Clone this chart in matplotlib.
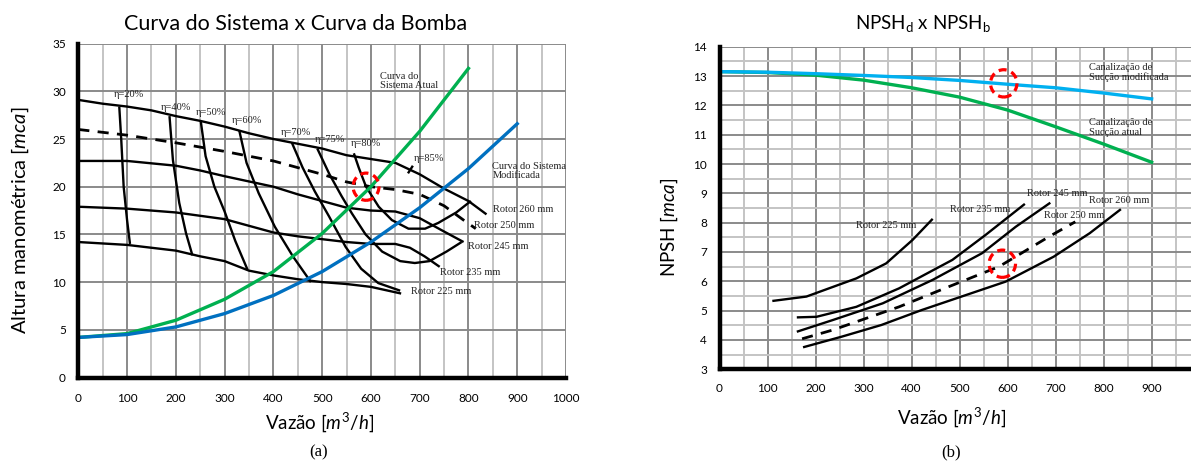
import matplotlib
matplotlib.use("Agg")
import matplotlib.pyplot as plt
from matplotlib.patches import Ellipse
from matplotlib.ticker import MultipleLocator

plt.rcParams['font.family'] = ['Lato', 'DejaVu Sans']
plt.rcParams['mathtext.fontset'] = 'custom'
plt.rcParams['mathtext.rm'] = 'Lato'
plt.rcParams['mathtext.it'] = 'Lato:italic'

SERIF = ['Liberation Serif', 'DejaVu Serif']

# ---------------- (a) pump curves ----------------
r260_q = [0, 50, 100, 150, 200, 250, 300, 350, 400, 450, 500, 550, 600, 650, 700, 750, 800, 837]
r260_h = [29.1, 28.7, 28.4, 28.0, 27.4, 26.9, 26.3, 25.6, 25.0, 24.5, 24.0, 23.3, 22.9, 22.5, 21.3, 19.8, 18.5, 17.1]
r250_q = [0, 100, 200, 300, 400, 500, 550, 600, 650, 700, 750, 790, 815]
r250_h = [26.0, 25.4, 24.6, 23.7, 22.7, 21.3, 20.5, 20.0, 19.7, 19.2, 18.0, 16.5, 15.6]
r245_q = [0, 100, 200, 250, 300, 400, 450, 500, 550, 600, 650, 700, 750, 790]
r245_h = [22.7, 22.7, 22.2, 21.7, 21.1, 20.0, 19.2, 18.5, 17.8, 17.5, 17.4, 16.7, 15.3, 14.2]
r235_q = [0, 100, 200, 300, 350, 400, 450, 500, 550, 600, 650, 680, 710, 741]
r235_h = [17.9, 17.7, 17.3, 16.6, 15.9, 15.2, 14.8, 14.5, 14.2, 14.0, 14.0, 13.6, 12.7, 11.6]
r225_q = [0, 100, 200, 250, 300, 350, 400, 450, 500, 550, 600, 662]
r225_h = [14.2, 13.9, 13.3, 12.7, 12.2, 11.2, 10.7, 10.3, 10.0, 9.8, 9.5, 8.8]

eta20_q = [84, 88, 93, 100, 106]
eta20_h = [28.4, 25.0, 20.0, 16.5, 14.0]
eta40_q = [187, 194, 207, 221, 234]
eta40_h = [27.4, 22.8, 18.3, 15.1, 12.8]
eta50_q = [251, 261, 279, 300, 322, 347]
eta50_h = [26.9, 23.2, 20.0, 17.4, 14.3, 11.3]
eta60_q = [330, 345, 370, 403, 440, 477]
eta60_h = [25.9, 22.5, 19.3, 15.8, 12.7, 10.0]
eta70_q = [438, 460, 485, 514, 548, 580, 615, 660]
eta70_h = [24.6, 22.0, 19.5, 16.9, 13.7, 11.4, 9.9, 9.1]
eta75_q = [490, 515, 540, 561, 589, 623, 660, 690, 720, 755, 786]
eta75_h = [24.0, 21.3, 19.0, 17.2, 15.0, 13.2, 12.2, 12.0, 12.2, 13.2, 14.2]
eta80_q = [565, 575, 590, 616, 643, 677, 711, 738, 775, 805]
eta80_h = [23.5, 22.0, 20.0, 17.9, 16.5, 15.6, 15.6, 16.2, 17.3, 18.5]
eta85_q = [676, 686]
eta85_h = [21.4, 22.2]

sys_q = [0, 100, 200, 300, 400, 500, 600, 700, 800, 900]
sys_atual_h = [4.2, 4.6, 6.0, 8.2, 11.1, 15.1, 20.0, 25.8, 32.4]
sys_mod_h = [4.2, 4.5, 5.3, 6.7, 8.6, 11.1, 14.2, 17.8, 21.9, 26.6]

eta_labels = ['η=20%', 'η=40%', 'η=50%', 'η=60%', 'η=70%', 'η=75%', 'η=80%', 'η=85%']
eta_label_q = [73, 170, 240, 315, 415, 485, 558, 688]
eta_label_h = [29.7, 28.3, 27.8, 26.9, 25.7, 24.9, 24.5, 23.0]

rotor_labels = ['Rotor 260 mm', 'Rotor 250 mm', 'Rotor 245 mm', 'Rotor 235 mm', 'Rotor 225 mm']
rotor_label_q = [850, 812, 799, 742, 682]
rotor_label_h = [17.6, 15.9, 13.7, 11.0, 9.0]

# ---------------- (b) NPSH ----------------
npshd_q = [0, 100, 200, 300, 400, 500, 600, 700, 800, 900]
npshd_mod = [13.15, 13.13, 13.08, 13.02, 12.95, 12.85, 12.72, 12.6, 12.42, 12.22]
npshd_atual = [13.15, 13.12, 13.03, 12.86, 12.6, 12.28, 11.84, 11.27, 10.68, 10.06]

n225_q = [110, 181, 285, 347, 402, 444]
n225_h = [5.33, 5.48, 6.1, 6.61, 7.41, 8.13]
n235_q = [161, 202, 285, 374, 485, 554, 636]
n235_h = [4.77, 4.79, 5.13, 5.76, 6.73, 7.58, 8.64]
n245_q = [161, 236, 340, 444, 547, 617, 689]
n245_h = [4.28, 4.68, 5.25, 6.05, 6.96, 7.86, 8.68]
n250_q = [172, 236, 374, 478, 582, 686, 741]
n250_h = [4.04, 4.34, 5.13, 5.82, 6.5, 7.52, 8.03]
n260_q = [174, 254, 337, 421, 504, 596, 696, 771, 836]
n260_h = [3.75, 4.11, 4.51, 5.02, 5.48, 5.99, 6.84, 7.64, 8.46]

npsh_labels = ['Rotor 225 mm', 'Rotor 235 mm', 'Rotor 245 mm', 'Rotor 250 mm', 'Rotor 260 mm']
npsh_label_q = [285, 480, 641, 675, 770]
npsh_label_h = [7.9, 8.46, 9.0, 8.24, 8.75]

W, H = 1191, 461
fig = plt.figure(figsize=(W / 100, H / 100), dpi=100)


def px(x, y):
    return x / W, 1 - y / H


def style_axes(ax):
    for s in ['top', 'right']:
        ax.spines[s].set_visible(False)
    for s in ['left', 'bottom']:
        ax.spines[s].set_linewidth(3.2)
        ax.spines[s].set_color('black')
        ax.spines[s].set_zorder(5)
    ax.grid(which='major', color='#8a8a8a', linewidth=1.4, zorder=0)
    ax.grid(which='minor', axis='x', color='#c4c4c4', linewidth=1.4, zorder=0)
    ax.tick_params(which='both', length=0, labelsize=8.5)
    ax.set_axisbelow(True)


BLK = dict(color='black', lw=1.7, solid_capstyle='butt', zorder=3)

# ---------- left axes ----------
ax1 = fig.add_axes([78.3 / W, 1 - 377.5 / H, (566 - 78.3) / W, (377.5 - 43.6) / H])
ax1.set_xlim(0, 1000)
ax1.set_ylim(0, 35)
ax1.xaxis.set_major_locator(MultipleLocator(100))
ax1.xaxis.set_minor_locator(MultipleLocator(50))
ax1.yaxis.set_major_locator(MultipleLocator(5))
style_axes(ax1)
ax1.tick_params(axis='x', pad=11)
ax1.tick_params(axis='y', pad=9)

for q, h in [(r260_q, r260_h), (r245_q, r245_h), (r235_q, r235_h), (r225_q, r225_h)]:
    ax1.plot(q, h, **BLK)
ax1.plot(r250_q, r250_h, color='black', lw=2.0, linestyle=(0, (4, 3)), zorder=3)
for q, h in [(eta20_q, eta20_h), (eta40_q, eta40_h), (eta50_q, eta50_h), (eta60_q, eta60_h),
             (eta70_q, eta70_h), (eta75_q, eta75_h), (eta80_q, eta80_h), (eta85_q, eta85_h)]:
    ax1.plot(q, h, **BLK)
ax1.plot(sys_q[:len(sys_atual_h)], sys_atual_h, color='#00B050', lw=2.4, zorder=4)
ax1.plot(sys_q, sys_mod_h, color='#0070C0', lw=2.4, zorder=4)

for t, q, h in zip(eta_labels, eta_label_q, eta_label_h):
    ax1.text(q, h, t, fontsize=7.5, family=SERIF, va='center', ha='left', color='#222222', zorder=6)
for t, q, h in zip(rotor_labels, rotor_label_q, rotor_label_h):
    ax1.text(q, h, t, fontsize=7.5, family=SERIF, va='center', ha='left', color='#222222', zorder=6)
ax1.text(619, 31.1, 'Curva do\nSistema Atual', fontsize=7.5, family=SERIF, va='center', ha='left',
         color='#222222', linespacing=1.05)
ax1.text(849, 21.65, 'Curva do Sistema\nModificada', fontsize=7.5, family=SERIF, va='center', ha='left',
         color='#222222', linespacing=1.05, clip_on=False)
ax1.add_patch(Ellipse((590, 20.0), 53, 2.85, fill=False, edgecolor='#FF0000', lw=2.3,
                      linestyle=(0, (2.5, 1.6)), zorder=7))

# ---------- right axes ----------
ax2 = fig.add_axes([719.5 / W, 1 - 369.3 / H, (W - 719.5) / W, (369.3 - 46.7) / H])
ax2.set_xlim(0, 982)
ax2.set_ylim(3, 14)
ax2.xaxis.set_major_locator(MultipleLocator(100))
ax2.xaxis.set_minor_locator(MultipleLocator(50))
ax2.yaxis.set_major_locator(MultipleLocator(1))
ax2.yaxis.set_minor_locator(MultipleLocator(0.5))
style_axes(ax2)
ax2.grid(which='minor', axis='y', color='#c4c4c4', linewidth=1.4, zorder=0)
ax2.set_xticks([0, 100, 200, 300, 400, 500, 600, 700, 800, 900])
ax2.tick_params(axis='x', pad=10)
ax2.tick_params(axis='y', pad=9)

ax2.plot(npshd_q, npshd_atual, color='#00B050', lw=2.4, zorder=4)
ax2.plot(npshd_q, npshd_mod, color='#00B0F0', lw=2.4, zorder=4)
for q, h in [(n225_q, n225_h), (n235_q, n235_h), (n245_q, n245_h), (n260_q, n260_h)]:
    ax2.plot(q, h, **BLK)
ax2.plot(n250_q, n250_h, color='black', lw=2.0, linestyle=(0, (4, 3)), zorder=3)
for t, q, h in zip(npsh_labels, npsh_label_q, npsh_label_h):
    ax2.text(q, h, t, fontsize=7.5, family=SERIF, va='center', ha='left', color='#222222', zorder=6)
ax2.text(769, 13.12, 'Canalização de\nSucção modificada', fontsize=7.5, family=SERIF, va='center',
         ha='left', color='#222222', linespacing=1.05)
ax2.text(769, 11.25, 'Canalização de\nSucção atual', fontsize=7.5, family=SERIF, va='center',
         ha='left', color='#222222', linespacing=1.05)
ax2.add_patch(Ellipse((592, 12.75), 55, 0.93, fill=False, edgecolor='#FF0000', lw=2.3,
                      linestyle=(0, (2.5, 1.6)), zorder=7))
ax2.add_patch(Ellipse((589, 6.6), 55, 0.93, fill=False, edgecolor='#FF0000', lw=2.3,
                      linestyle=(0, (2.5, 1.6)), zorder=7))

# ---------- titles and labels ----------
fig.text(*px(296, 24), 'Curva do Sistema x Curva da Bomba', fontsize=15.5, ha='center', va='center')
fig.text(*px(923, 24), r'NPSH$_\mathrm{d}$ x NPSH$_\mathrm{b}$', fontsize=13.5, ha='center', va='center')
fig.text(*px(320, 422), r'Vazão [$m^3/h$]', fontsize=13.5, ha='center', va='center')
fig.text(*px(952, 417), r'Vazão [$m^3/h$]', fontsize=13.5, ha='center', va='center')
fig.text(*px(20, 220), r'Altura manométrica [$mca$]', fontsize=14.5, ha='center', va='center', rotation=90)
fig.text(*px(669, 227), r'NPSH [$mca$]', fontsize=13.5, ha='center', va='center', rotation=90)
fig.text(*px(319, 452), '(a)', fontsize=12, family=SERIF, ha='center', va='center')
fig.text(*px(951, 452), '(b)', fontsize=12, family=SERIF, ha='center', va='center')

fig.savefig('out.png', dpi=100)
